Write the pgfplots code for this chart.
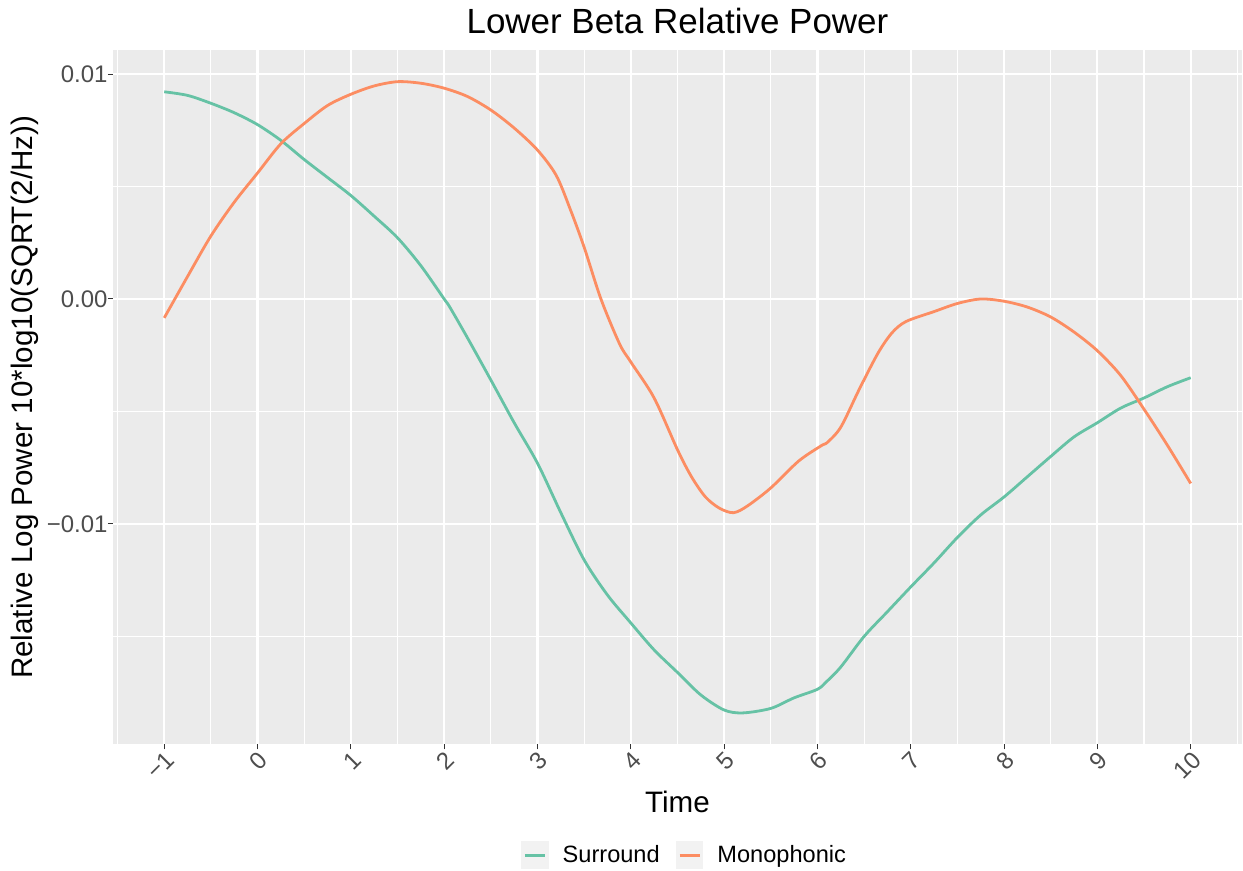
\documentclass[border=0pt]{standalone}
\usepackage{fontspec}
\setmainfont{Liberation Sans}
\usepackage{pgfplots}
\pgfplotsset{compat=1.18}

\definecolor{srgreen}{HTML}{66C2A5}
\definecolor{mnorange}{HTML}{FC8D62}
\definecolor{panelgray}{HTML}{EBEBEB}
\definecolor{keygray}{HTML}{F2F2F2}
\definecolor{ticktext}{HTML}{4D4D4D}
\definecolor{tickline}{HTML}{333333}

\begin{document}
\begin{tikzpicture}
\begin{axis}[
  name=ax,
  scale only axis, width=565pt, height=347.5pt,
  xmin=-1.55, xmax=10.55, ymin=-0.0198, ymax=0.01107,
  axis background/.style={fill=panelgray},
  axis line style={draw=none},
  xtick={-1,0,...,10},
  xticklabels={−1,0,1,2,3,4,5,6,7,8,9,10},
  minor xtick={-1.5,-0.5,...,10.5},
  ytick={-0.01,0,0.01},
  yticklabels={−0.01,0.00,0.01},
  minor ytick={-0.015,-0.005,0.005},
  scaled y ticks=false,
  grid=both,
  major grid style={white, line width=1.1pt},
  minor grid style={white, line width=0.55pt},
  tick align=outside,
  tick pos=left,
  major tick length=2.5pt, minor tick length=0pt,
  major tick style={tickline, line width=0.5pt},
  xticklabel style={font=\fontsize{12}{14}\selectfont, text=ticktext,
    rotate=45, anchor=north east, inner sep=0pt},
  yticklabel style={font=\fontsize{12}{14}\selectfont, text=ticktext,
    anchor=east, inner sep=0pt},
  legend columns=2,
  legend style={at={(axis description cs:0.5,0)}, anchor=center,
    yshift=-55.5pt, xshift=4pt, draw=none, fill=none,
    font=\fontsize{11.8}{14}\selectfont,
    /tikz/every odd column/.append style={column sep=5pt},
    /tikz/every even column/.append style={column sep=6pt}},
  legend image code/.code={
    \fill[keygray] (0pt,-6.25pt) rectangle (12.5pt,6.25pt);
    \draw[#1] (1.25pt,0pt) -- (11.25pt,0pt);},
]

% Surround condition
\addplot[srgreen, line width=1.4pt, smooth, tension=0.5] coordinates {
  (-1.0,0.00921) (-0.75,0.00905) (-0.5,0.00870) (-0.25,0.00828)
  (0.0,0.00775) (0.25,0.00705) (0.5,0.00620) (0.75,0.00540)
  (1.0,0.00460) (1.25,0.00368) (1.5,0.00272) (1.75,0.00148)
  (2.0,0.00000) (2.06,-0.00036) (2.25,-0.00173) (2.5,-0.0036)
  (2.75,-0.0055) (3.0,-0.0073) (3.25,-0.0095) (3.5,-0.0116)
  (3.75,-0.01316) (4.0,-0.0144) (4.25,-0.0156) (4.5,-0.0166)
  (4.75,-0.0176) (5.0,-0.01827) (5.2,-0.0184) (5.5,-0.0182)
  (5.75,-0.01773) (6.0,-0.01735) (6.1,-0.0170) (6.25,-0.01636)
  (6.5,-0.0150) (6.75,-0.0139) (7.0,-0.0128) (7.25,-0.01173)
  (7.5,-0.0106) (7.75,-0.0096) (8.0,-0.0088) (8.25,-0.0079)
  (8.5,-0.0070) (8.75,-0.00613) (9.0,-0.0055) (9.25,-0.00485)
  (9.5,-0.0044) (9.75,-0.0039) (10.0,-0.0035)
};
\addlegendentry{Surround}

% Monophonic condition
\addplot[mnorange, line width=1.4pt, smooth, tension=0.5] coordinates {
  (-1.0,-0.00084) (-0.75,0.0010) (-0.5,0.0028) (-0.25,0.0043)
  (0.0,0.0056) (0.25,0.0069) (0.5,0.0078) (0.75,0.0086)
  (1.0,0.0091) (1.25,0.00947) (1.5,0.00966) (1.75,0.00959)
  (2.0,0.00937) (2.25,0.0090) (2.5,0.0084) (2.75,0.0076)
  (3.0,0.00662) (3.2,0.0055) (3.35,0.0040) (3.5,0.0023)
  (3.68,0.0000) (3.88,-0.0020) (4.0,-0.0028) (4.25,-0.0044)
  (4.5,-0.0067) (4.65,-0.0079) (4.8,-0.0088)
  (4.95,-0.0093) (5.1,-0.0095) (5.25,-0.0092) (5.5,-0.0084)
  (5.8,-0.0072) (6.05,-0.0065) (6.1,-0.0064) (6.25,-0.0057)
  (6.45,-0.0040) (6.65,-0.0024) (6.8,-0.0015) (6.95,-0.0010)
  (7.25,-0.00056) (7.5,-0.0002) (7.75,0.0000) (8.0,-0.0001)
  (8.25,-0.00036) (8.5,-0.0008) (8.75,-0.00147) (9.0,-0.0023)
  (9.25,-0.0034) (9.5,-0.0049) (9.75,-0.0065) (10.0,-0.0082)
};
\addlegendentry{Monophonic}
\end{axis}

% titles
\node[anchor=base, font=\fontsize{17.5}{20}\selectfont]
  at ([yshift=8pt]ax.north) {Lower Beta Relative Power};
\node[anchor=base, font=\fontsize{14.8}{17}\selectfont]
  at ([yshift=-34pt]ax.south) {Time};
\node[rotate=90, anchor=base, font=\fontsize{14.8}{17}\selectfont]
  at ([xshift=-40pt]ax.west) {Relative Log Power 10*log10(SQRT(2/Hz))};

\pgfresetboundingbox
\path[use as bounding box] ([shift={(-56.5pt,-63pt)}]ax.south west)
  rectangle ([shift={(0.5pt,25pt)}]ax.north east);
\end{tikzpicture}
\end{document}
